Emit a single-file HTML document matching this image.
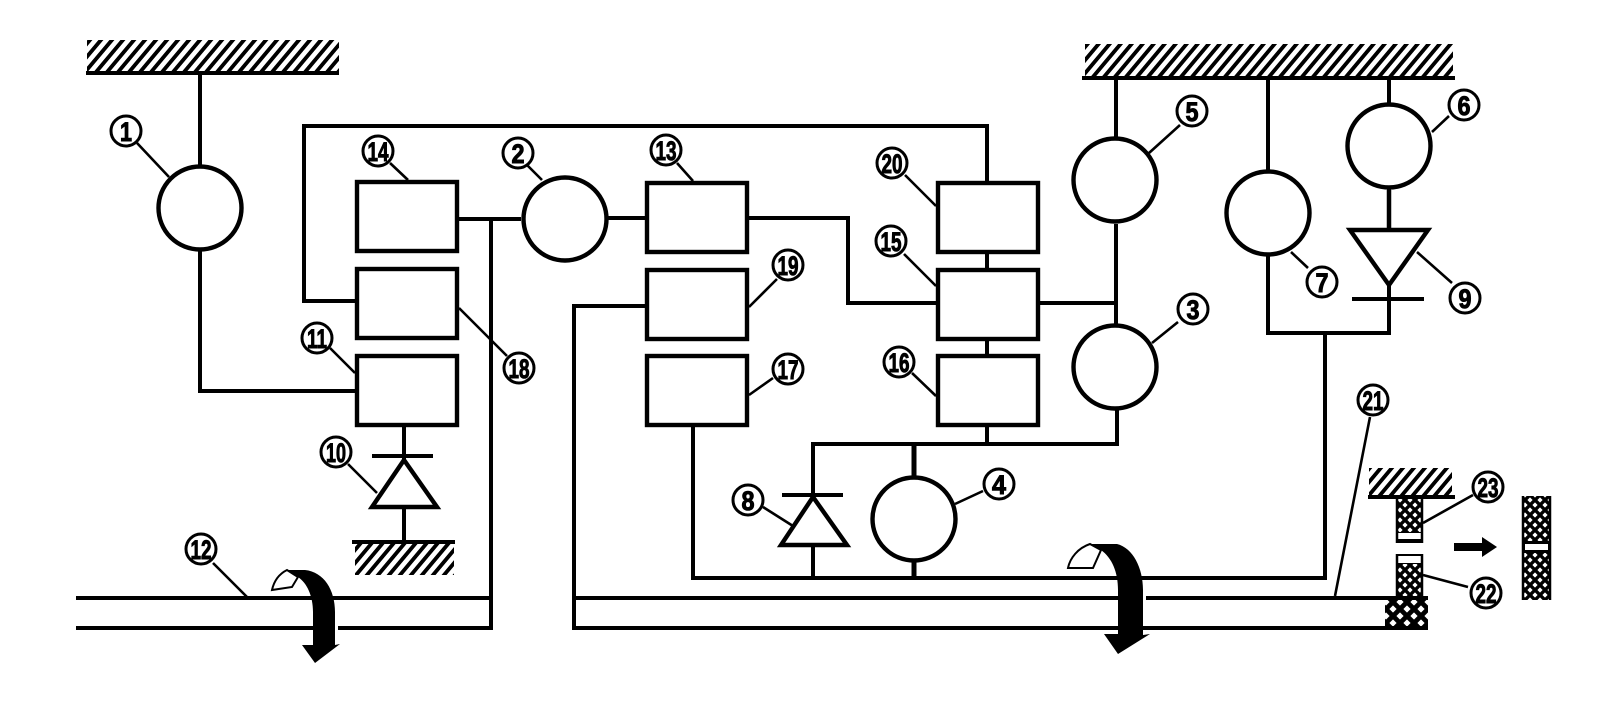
<!DOCTYPE html>
<html><head><meta charset="utf-8"><style>
html,body{margin:0;padding:0;background:#fff;width:1600px;height:724px;overflow:hidden}
svg{display:block}
text{font-family:"Liberation Sans",sans-serif;font-weight:bold;font-size:27px;fill:#000;text-anchor:middle;stroke:#000;stroke-width:1}
</style></head><body>
<svg width="1600" height="724" viewBox="0 0 1600 724" xmlns="http://www.w3.org/2000/svg">
<defs>
<pattern id="h" width="11" height="33" patternUnits="userSpaceOnUse" patternTransform="skewX(-40)"><rect width="11" height="33" fill="#fff"/><rect width="5" height="33" fill="#000"/></pattern>
<pattern id="c" width="10" height="10" patternUnits="userSpaceOnUse"><rect width="10" height="10" fill="#000"/><path d="M0 -2.6L2.6 0L0 2.6L-2.6 0ZM10 -2.6L12.6 0L10 2.6L7.4 0ZM0 7.4L2.6 10L0 12.6L-2.6 10ZM10 7.4L12.6 10L10 12.6L7.4 10ZM5 2.4L7.6 5L5 7.6L2.4 5Z" fill="#fff"/></pattern>
<pattern id="d" width="14" height="14" patternUnits="userSpaceOnUse"><rect width="14" height="14" fill="#000"/><path d="M0 -3.6L3.6 0L0 3.6L-3.6 0ZM14 -3.6L17.6 0L14 3.6L10.4 0ZM0 10.4L3.6 14L0 17.6L-3.6 14ZM14 10.4L17.6 14L14 17.6L10.4 14ZM7 3.4L10.6 7L7 10.6L3.4 7Z" fill="#fff"/></pattern>
</defs>
<rect width="1600" height="724" fill="#fff"/>

<!-- hatches -->
<rect x="87" y="40" width="252" height="33" fill="url(#h)"/>
<rect x="1085" y="44" width="368" height="34" fill="url(#h)"/>
<rect x="355" y="542" width="99" height="33" fill="url(#h)"/>
<rect x="1369" y="468" width="83" height="29" fill="url(#h)"/>

<!-- crosshatch blocks -->
<rect x="1396" y="497" width="27" height="46" fill="url(#c)"/>
<rect x="1396" y="554" width="27" height="44" fill="url(#c)"/>
<rect x="1385" y="598" width="43" height="30" fill="url(#d)"/>
<rect x="1522" y="496" width="29" height="104" fill="url(#c)"/>
<g fill="#000"><rect x="1396" y="532" width="27" height="11"/><rect x="1396" y="554" width="27" height="10"/><rect x="1522" y="541" width="29" height="12"/></g>
<g fill="#fff"><rect x="1398" y="533" width="23" height="6"/><rect x="1398" y="556" width="23" height="7"/><rect x="1525" y="544" width="23" height="6"/></g>
<g fill="none" stroke="#000" stroke-width="2.5"><path d="M1397 497V543M1422 497V543M1397 554V598M1422 554V598M1523 496V600M1550 496V600"/></g>

<!-- wires -->
<g fill="none" stroke="#000" stroke-width="4">
<path d="M86 73H339"/>
<path d="M1082 78H1455"/>
<path d="M352 542H455"/>
<path d="M1368 497H1455"/>
<path d="M200 73V166M200 250V391H355"/>
<path d="M355 301H304V126H987V181"/>
<path d="M459 219H521M491 219V630"/>
<path d="M76 598H491M76 628H493"/>
<path d="M608 218H645"/>
<path d="M749 218H848V303H936"/>
<path d="M645 306H574V630"/>
<path d="M574 598H1428M574 628H1428"/>
<path d="M693 427V578H1325V333"/>
<path d="M1268 78V170M1268 256V333H1389V78"/>
<path d="M1116 78V137M1116 224V324M1039 303H1116"/>
<path d="M1117 410V444H813V497M813 546V578"/>
<path d="M987 254V268M987 341V354M987 427V444"/>
<path d="M404 427V460M404 508V542"/>
<path d="M372 456H433M782 495H843M1352 299H1424"/>
<path d="M914 444V476M914 562V578" stroke-width="5"/>
<path d="M1389 190V229" stroke-width="4.5"/>
</g>

<!-- boxes -->
<g fill="#fff" stroke="#000" stroke-width="4.4">
<rect x="357" y="182" width="100" height="69"/><rect x="357" y="269" width="100" height="69"/><rect x="357" y="356" width="100" height="69"/>
<rect x="647" y="183" width="100" height="69"/><rect x="647" y="270" width="100" height="69"/><rect x="647" y="356" width="100" height="69"/>
<rect x="938" y="183" width="100" height="69"/><rect x="938" y="270" width="100" height="69"/><rect x="938" y="356" width="100" height="69"/>
<circle cx="200" cy="208" r="41.5"/><circle cx="565" cy="219" r="41.5"/>
<circle cx="1115" cy="180" r="41.5"/><circle cx="1115" cy="367" r="41.5"/>
<circle cx="914" cy="519" r="41.5"/><circle cx="1268" cy="213" r="41.5"/><circle cx="1389" cy="146" r="41.5"/>
<path d="M404 460L372 507H437Z"/>
<path d="M813 497L781 545H847Z"/>
<path d="M1389 285L1350 230H1428Z"/>
</g>

<!-- leaders -->
<g fill="none" stroke="#000" stroke-width="2.6">
<path d="M137 143L169 177M390 163L408 180M527 165L542 180M330 348L355 373M459 308L507 356M348 464L377 493M213 563L247 597"/>
<path d="M677 163L693 181M905 175L936 206M904 254L936 286M777 279L749 307M773 378L749 395M912 373L936 396M763 507L793 526M983 491L955 504"/>
<path d="M1180 125L1149 153M1178 322L1152 343M1308 268L1291 252M1449 116L1432 132M1452 283L1417 252M1370 417L1335 596M1473 495L1423 523M1468 587L1423 575"/>
</g>

<!-- gaps beside arrows -->
<rect x="335" y="625" width="3" height="6" fill="#fff"/>
<rect x="1143" y="595" width="3" height="6" fill="#fff"/>

<!-- curved arrows -->
<path d="M272 590C274 581 279 574 287 570L298 577L292 587Z" fill="#fff" stroke="#000" stroke-width="2"/>
<path d="M287 570H305C324 572 335 590 335 612V645L340 644L315 663L302 645H313V612C313 596 307 583 298 577Z" fill="#000"/>
<path d="M1068 568C1070 558 1078 548 1090 544L1101 550L1093 568Z" fill="#fff" stroke="#000" stroke-width="2"/>
<path d="M1090 544H1117C1133 548 1143 568 1143 590V635L1150 634L1118 654L1104 634H1118V590C1118 572 1112 558 1101 550Z" fill="#000"/>

<!-- motion arrow -->
<path d="M1454 543H1482V537L1497 547L1482 557V551H1454Z" fill="#000"/>

<!-- label circles -->
<g fill="#fff" stroke="#000" stroke-width="3">
<circle cx="126" cy="131" r="15"/><circle cx="378" cy="151" r="15"/><circle cx="518" cy="153" r="15"/><circle cx="317" cy="338" r="15"/><circle cx="519" cy="368" r="15"/><circle cx="336" cy="452" r="15"/><circle cx="201" cy="549" r="15"/>
<circle cx="666" cy="150" r="15"/><circle cx="892" cy="163" r="15"/><circle cx="891" cy="241" r="15"/><circle cx="788" cy="265" r="15"/><circle cx="788" cy="369" r="15"/><circle cx="899" cy="362" r="15"/><circle cx="748" cy="500" r="15"/><circle cx="999" cy="484" r="15"/>
<circle cx="1192" cy="111" r="15"/><circle cx="1193" cy="309" r="15"/><circle cx="1322" cy="282" r="15"/><circle cx="1464" cy="105" r="15"/><circle cx="1465" cy="298" r="15"/><circle cx="1373" cy="400" r="15"/><circle cx="1488" cy="487" r="15"/><circle cx="1486" cy="593" r="15"/>
</g>

<!-- label text -->
<text x="126" y="141" textLength="12" lengthAdjust="spacingAndGlyphs">1</text>
<text x="518" y="163" textLength="13" lengthAdjust="spacingAndGlyphs">2</text>
<text x="1193" y="319" textLength="13" lengthAdjust="spacingAndGlyphs">3</text>
<text x="999" y="494" textLength="14" lengthAdjust="spacingAndGlyphs">4</text>
<text x="1192" y="121" textLength="13" lengthAdjust="spacingAndGlyphs">5</text>
<text x="1464" y="115" textLength="13" lengthAdjust="spacingAndGlyphs">6</text>
<text x="1322" y="292" textLength="13" lengthAdjust="spacingAndGlyphs">7</text>
<text x="748" y="510" textLength="13" lengthAdjust="spacingAndGlyphs">8</text>
<text x="1465" y="308" textLength="13" lengthAdjust="spacingAndGlyphs">9</text>
<text x="336" y="462" textLength="20" lengthAdjust="spacingAndGlyphs">10</text>
<text x="317" y="348" textLength="20" lengthAdjust="spacingAndGlyphs">11</text>
<text x="201" y="559" textLength="21" lengthAdjust="spacingAndGlyphs">12</text>
<text x="666" y="160" textLength="21" lengthAdjust="spacingAndGlyphs">13</text>
<text x="378" y="161" textLength="21" lengthAdjust="spacingAndGlyphs">14</text>
<text x="891" y="251" textLength="21" lengthAdjust="spacingAndGlyphs">15</text>
<text x="899" y="372" textLength="21" lengthAdjust="spacingAndGlyphs">16</text>
<text x="788" y="379" textLength="21" lengthAdjust="spacingAndGlyphs">17</text>
<text x="519" y="378" textLength="21" lengthAdjust="spacingAndGlyphs">18</text>
<text x="788" y="275" textLength="21" lengthAdjust="spacingAndGlyphs">19</text>
<text x="892" y="173" textLength="21" lengthAdjust="spacingAndGlyphs">20</text>
<text x="1373" y="410" textLength="21" lengthAdjust="spacingAndGlyphs">21</text>
<text x="1486" y="603" textLength="21" lengthAdjust="spacingAndGlyphs">22</text>
<text x="1488" y="497" textLength="21" lengthAdjust="spacingAndGlyphs">23</text>
</svg>
</body></html>
